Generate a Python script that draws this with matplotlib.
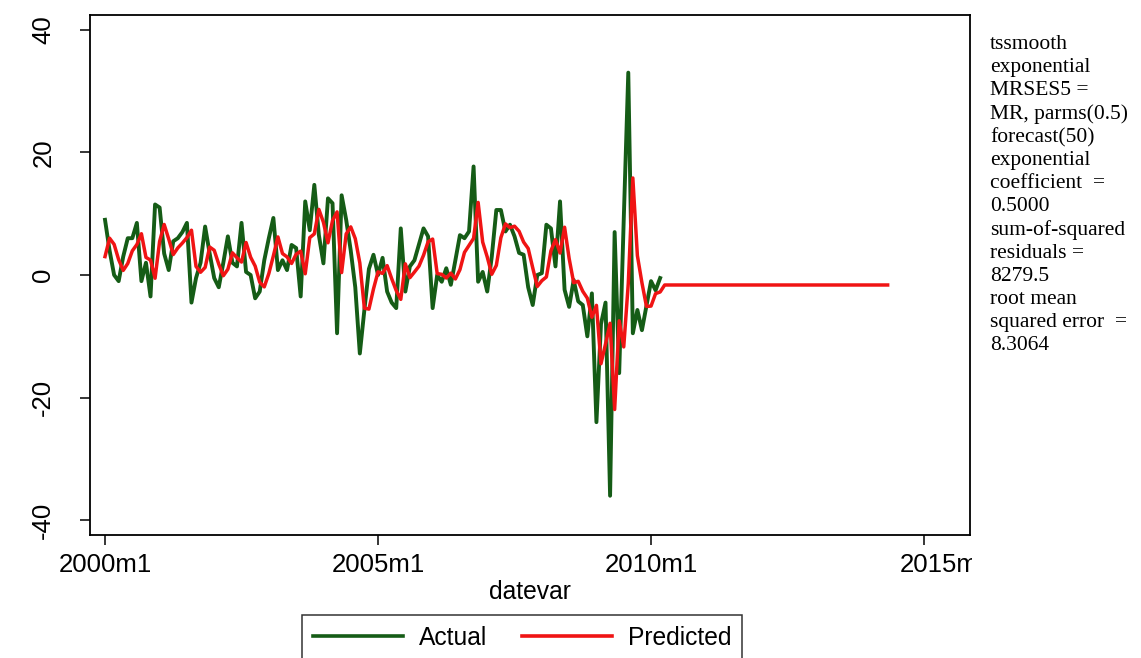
import matplotlib
matplotlib.use("Agg")
import matplotlib.pyplot as plt
from matplotlib.lines import Line2D
from matplotlib.patches import Rectangle

# Monthly series starting 2000m1 (month index 0)
actual = [
    9, 4, 0, -1, 3, 6, 6, 8.5, -1, 2,
    -3.5, 11.5, 11, 3.5, 0.8, 5.5, 6, 7, 8.5, -4.5,
    -0.5, 2, 7.9, 3.5, -0.5, -2, 2, 6.3, 2, 1.4,
    8.5, 0.5, 0, -3.8, -2.7, 2.4, 6, 9.3, 0.8, 2.4,
    0.8, 4.9, 4.4, -3.5, 12, 7.3, 14.7, 6.5, 1.9, 12.5,
    11.7, -9.5, 13, 9, 4, -2, -12.8, -5.7, 1, 3.3,
    0, 2.8, -2.7, -4.5, -5.4, 7.6, -2.7, 1.4, 2.4, 5,
    7.6, 6.3, -5.4, 0, -1.1, 1.1, -1.6, 2.4, 6.5, 6,
    7.1, 17.7, -1.1, 0.5, -2.7, 3, 10.6, 10.6, 7.1, 8.2,
    6.3, 3.6, 3.3, -2, -4.9, 0, 0.3, 8.2, 7.6, 1.4,
    12, -2.4, -5.2, -0.8, -4.3, -4.9, -10, -3, -24, -8,
    -4.5, -36, 7, -16, 9, 33, -9.5, -5.7, -9, -5,
    -1, -2.5, -0.5,
]

# Exponentially smoothed values (parms 0.5), in-sample part
predicted_insample = [
    3.00, 6.00, 5.00, 2.50, 0.75, 1.88, 3.94, 4.97, 6.73, 2.87,
    2.43, -0.53, 5.48, 8.24, 5.87, 3.34, 4.42, 5.21, 6.10, 7.30,
    1.40, 0.45, 1.23, 4.56, 4.03, 1.77, -0.12, 0.94, 3.62, 2.81,
    2.11, 5.30, 2.90, 1.45, -1.18, -1.94, 0.23, 3.12, 6.21, 3.50,
    2.95, 1.88, 3.39, 3.89, 0.20, 6.10, 6.70, 10.70, 8.60, 5.25,
    8.88, 10.29, 0.40, 6.70, 7.85, 5.93, 1.96, -5.42, -5.56, -2.28,
    0.51, 0.26, 1.53, -0.59, -2.54, -3.97, 1.82, -0.44, 0.48, 1.44,
    3.22, 5.41, 5.86, 0.23, 0.11, -0.49, 0.30, -0.65, 0.87, 3.69,
    4.84, 5.97, 11.84, 5.37, 2.94, 0.12, 1.56, 6.08, 8.34, 7.72,
    7.96, 7.13, 5.37, 4.33, 1.17, -1.87, -0.93, -0.32, 3.94, 5.77,
    3.58, 7.79, 2.70, -1.25, -1.03, -2.66, -3.78, -6.89, -4.95, -14.47,
    -11.24, -7.87, -21.93, -7.47, -11.73, -1.37, 15.82, 3.16, -1.27, -5.13,
    -5.07, -3.03, -2.77,
]
# Out-of-sample forecast: 50 months at the last smoothed level
forecast_level = -1.63
forecast_horizon = 50

predicted = predicted_insample + [forecast_level] * forecast_horizon

x_ticks = [0, 60, 120, 180]
x_ticklabels = ["2000m1", "2005m1", "2010m1", "2015m1"]
y_ticks = [-40, -20, 0, 20, 40]
y_ticklabels = ["-40", "-20", "0", "20", "40"]

note_lines = [
    "tssmooth", "exponential", "MRSES5 =", "MR, parms(0.5)", "forecast(50)",
    "exponential", "coefficient  =", "0.5000", "sum-of-squared", "residuals =",
    "8279.5", "root mean", "squared error  =", "8.3064",
]

GREEN = "#155c16"
RED = "#f01414"
SANS = ["Liberation Sans", "DejaVu Sans"]

W, H = 1141, 658
fig = plt.figure(figsize=(W / 100, H / 100), dpi=100)
fig.patch.set_facecolor("white")

left, right, top, bottom = 90, 970, 15, 535
ax = fig.add_axes([left / W, 1 - bottom / H, (right - left) / W, (bottom - top) / H])

ax.plot(range(len(actual)), actual, color=GREEN, lw=2.8, zorder=2)
ax.plot(range(len(predicted)), predicted, color=RED, lw=2.5, zorder=3)

ax.set_xlim(-3.3, 190.1)
ax.set_ylim(-42.4, 42.4)

TICK_LEN, XPAD = 7, 6
ax.set_xticks(x_ticks)
# the last date label sits partly under the note panel; it is drawn separately below
ax.set_xticklabels(x_ticklabels[:-1] + [""], fontsize=18.5, family=SANS)
ax.set_yticks(y_ticks)
ax.set_yticklabels(y_ticklabels, fontsize=18.5, family=SANS, rotation=90, va="center")
ax.tick_params(axis="both", direction="out", length=TICK_LEN, width=1.1, color="black")
ax.tick_params(axis="x", pad=XPAD)
ax.tick_params(axis="y", pad=18)

ax.annotate(x_ticklabels[-1], xy=(x_ticks[-1], 0), xycoords=("data", "axes fraction"),
            xytext=(16, -(TICK_LEN + XPAD)), textcoords="offset points",
            ha="center", va="top", fontsize=18.5, family=SANS, annotation_clip=False)

for s in ax.spines.values():
    s.set_linewidth(1.3)
    s.set_color("black")

ax.set_xlabel("datevar", fontsize=17.7, family=SANS, labelpad=2)

# note panel background, covering whatever extends past the plot box
fig.add_artist(Rectangle((972 / W, 1 - 600 / H), (W - 972) / W, 62 / H,
                         transform=fig.transFigure, facecolor="white",
                         edgecolor="none", zorder=10))

fig.text(990 / W, 1 - 35 / H, "\n".join(note_lines), family=["Liberation Serif", "DejaVu Serif"],
         fontsize=15.5, va="top", ha="left", linespacing=1.28, zorder=11)

handles = [Line2D([], [], color=GREEN, lw=2.6), Line2D([], [], color=RED, lw=2.6)]
leg = fig.legend(handles, ["Actual", "Predicted"], ncol=2, loc="upper center",
                 bbox_to_anchor=(522 / W, 1 - 615 / H), frameon=True, fancybox=False,
                 prop={"family": SANS, "size": 17.7}, handlelength=3.66,
                 handletextpad=0.65, columnspacing=1.42, borderpad=0.45,
                 borderaxespad=0)
leg.get_frame().set_edgecolor("black")
leg.get_frame().set_linewidth(1.1)

fig.savefig("out.png", dpi=100, facecolor="white")
